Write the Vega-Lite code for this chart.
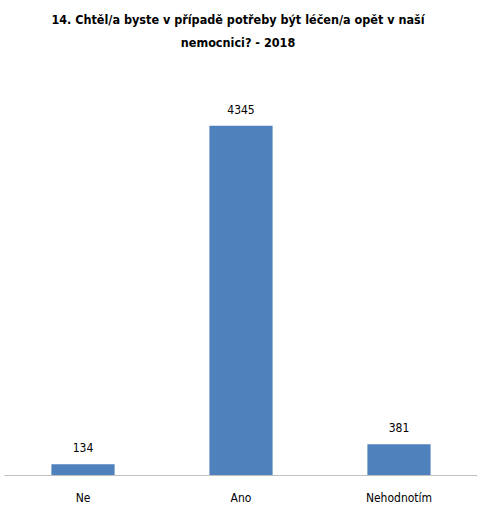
{
  "$schema": "https://vega.github.io/schema/vega-lite/v6.json",
  "width": 474,
  "height": 402,
  "autosize": "none",
  "padding": {"left": 4, "top": 73, "right": 0, "bottom": 31},
  "background": "white",
  "title": {
    "text": ["14. Chtěl/a byste v případě potřeby být léčen/a opět v naší", "nemocnici? - 2018"],
    "font": "DejaVu Sans Condensed, Liberation Sans",
    "fontWeight": "bold",
    "fontSize": 12.5,
    "lineHeight": 23,
    "color": "#000000",
    "anchor": "middle",
    "dx": -3,
    "offset": 24
  },
  "data": {"values": [
    {"odpoved": "Ne", "pocet": 134},
    {"odpoved": "Ano", "pocet": 4345},
    {"odpoved": "Nehodnotím", "pocet": 381}
  ]},
  "encoding": {
    "x": {"field": "odpoved", "type": "nominal", "sort": null,
      "scale": {"paddingInner": 0.6, "paddingOuter": 0.3},
      "axis": {"title": null, "labelAngle": 0, "ticks": false, "domainColor": "#bfbfbf", "domainWidth": 1,
        "labelFont": "DejaVu Sans Condensed, Liberation Sans", "labelFontSize": 12, "labelColor": "#000000", "labelPadding": 17}},
    "y": {"field": "pocet", "type": "quantitative", "scale": {"domain": [0, 5000]}, "axis": null}
  },
  "layer": [
    {"mark": {"type": "bar", "color": "#4f81bd"}},
    {"mark": {"type": "text", "baseline": "bottom", "dy": -9, "font": "DejaVu Sans Condensed, Liberation Sans", "fontSize": 12, "color": "#000000"},
     "encoding": {"text": {"field": "pocet", "type": "quantitative"}}}
  ],
  "config": {"view": {"stroke": null}}
}
